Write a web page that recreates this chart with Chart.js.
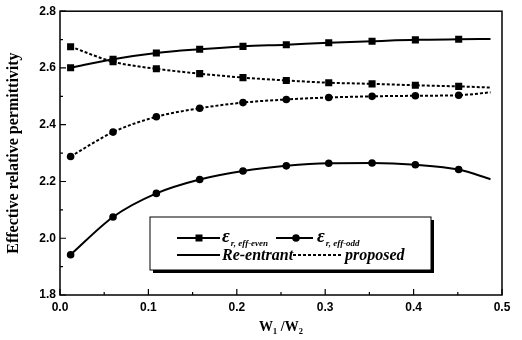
<!DOCTYPE html>
<html>
<head>
<meta charset="utf-8">
<script src="https://cdn.jsdelivr.net/npm/chart.js@4"></script>
<style>
  html, body { margin: 0; padding: 0; background: #fff; }
  #wrap { width: 522px; height: 340px; }
</style>
</head>
<body>
<div id="wrap"><canvas id="chart"></canvas></div>
<script>
// valores
const widthRatio = [0.012, 0.06, 0.109, 0.158, 0.207, 0.256, 0.304, 0.353, 0.402, 0.451, 0.487];
const reEntrantEven = [2.601, 2.631, 2.653, 2.666, 2.676, 2.682, 2.689, 2.694, 2.699, 2.701, 2.702];
const proposedEven = [2.675, 2.622, 2.597, 2.580, 2.566, 2.556, 2.548, 2.544, 2.539, 2.535, 2.531];
const proposedOdd = [2.288, 2.374, 2.428, 2.458, 2.478, 2.489, 2.496, 2.500, 2.502, 2.504, 2.514];
const reEntrantOdd = [1.942, 2.075, 2.158, 2.207, 2.237, 2.255, 2.264, 2.265, 2.259, 2.242, 2.208];

const xMajor = [0, 0.1, 0.2, 0.3, 0.4, 0.5];
const xMinor = [0.05, 0.15, 0.25, 0.35, 0.45];
const yMajor = [1.8, 2.0, 2.2, 2.4, 2.6, 2.8];
const yMinor = [1.9, 2.1, 2.3, 2.5, 2.7];

const toPoints = ys => ys.map((y, i) => ({ x: widthRatio[i], y: y }));
// la última muestra es solo el final de la curva, sin marcador
const markerSize = r => ctx => ctx.dataIndex === widthRatio.length - 1 ? 0 : r;

function serie(values, dashed, shape) {
    return {
        data: toPoints(values),
        borderColor: '#000',
        backgroundColor: '#000',
        borderWidth: 2,
        borderDash: dashed ? [3, 2] : [],
        pointStyle: shape,
        pointRadius: markerSize(shape === 'rect' ? 5 : 3.8),
        pointBorderWidth: 0,
        cubicInterpolationMode: 'monotone',
        fill: false
    };
}

// marco, ticks interiores y leyenda
const decoraciones = {
    id: 'decoraciones',
    afterDraw(chart) {
        const ctx = chart.ctx;
        const a = chart.chartArea;
        const sx = chart.scales.x, sy = chart.scales.y;
        ctx.save();
        ctx.strokeStyle = '#000';
        ctx.lineWidth = 1.5;
        ctx.strokeRect(a.left, a.top, a.right - a.left, a.bottom - a.top);

        ctx.lineWidth = 1.2;
        ctx.beginPath();
        xMajor.forEach(v => { const p = sx.getPixelForValue(v); ctx.moveTo(p, a.bottom); ctx.lineTo(p, a.bottom - 6); });
        xMinor.forEach(v => { const p = sx.getPixelForValue(v); ctx.moveTo(p, a.bottom); ctx.lineTo(p, a.bottom - 3); });
        yMajor.forEach(v => { const p = sy.getPixelForValue(v); ctx.moveTo(a.left, p); ctx.lineTo(a.left + 6, p); });
        yMinor.forEach(v => { const p = sy.getPixelForValue(v); ctx.moveTo(a.left, p); ctx.lineTo(a.left + 3, p); });
        ctx.stroke();

        // leyenda con sombra
        const bx = 150, by = 217, bw = 281, bh = 53;
        ctx.fillStyle = '#000';
        ctx.fillRect(bx + 3, by + 3, bw, bh);
        ctx.fillStyle = '#fff';
        ctx.fillRect(bx, by, bw, bh);
        ctx.lineWidth = 1;
        ctx.strokeRect(bx, by, bw, bh);

        ctx.fillStyle = '#000';
        ctx.lineWidth = 2;
        const r1 = 238, r2 = 255;
        const linea = (x1, x2, y, dash) => {
            ctx.setLineDash(dash);
            ctx.beginPath(); ctx.moveTo(x1, y); ctx.lineTo(x2, y); ctx.stroke();
            ctx.setLineDash([]);
        };
        linea(177, 220, r1, []);
        ctx.fillRect(199 - 3.5, r1 - 3.5, 7, 7);
        linea(276, 313, r1, []);
        ctx.beginPath(); ctx.arc(296, r1, 3.8, 0, Math.PI * 2); ctx.fill();

        ctx.textBaseline = 'alphabetic';
        ctx.textAlign = 'left';
        const epsilon = (x, sub) => {
            ctx.font = 'italic bold 19px "Liberation Serif"';
            ctx.fillText('\u03b5', x, r1 + 4);
            const w = ctx.measureText('\u03b5').width;
            ctx.font = 'italic bold 9px "Liberation Serif"';
            ctx.fillText(sub, x + w + 1, r1 + 8);
        };
        epsilon(222, 'r, eff-even');
        epsilon(317, 'r, eff-odd');

        linea(177, 220, r2, []);
        ctx.font = 'italic bold 16px "Liberation Serif"';
        ctx.fillText('Re-entrant', 222, r2 + 5);
        linea(293, 342, r2, [3, 2]);
        ctx.fillText('proposed', 345, r2 + 5);
        ctx.restore();
    }
};

new Chart(document.getElementById('chart').getContext('2d'), {
    type: 'line',
    data: {
        datasets: [
            serie(reEntrantEven, false, 'rect'),
            serie(proposedEven, true, 'rect'),
            serie(proposedOdd, true, 'circle'),
            serie(reEntrantOdd, false, 'circle')
        ]
    },
    options: {
        responsive: true,
        maintainAspectRatio: false,
        animation: false,
        layout: { padding: { left: 0, right: 20, top: 9, bottom: 0 } },
        plugins: {
            legend: { display: false },
            tooltip: { enabled: false }
        },
        scales: {
            x: {
                type: 'linear',
                min: 0, max: 0.5,
                afterFit: s => { s.height = 45; },
                grid: { display: false, drawTicks: false },
                border: { display: false },
                ticks: {
                    stepSize: 0.1,
                    padding: 5,
                    color: '#000',
                    font: { family: '"Liberation Sans"', size: 12, weight: 'bold' },
                    callback: v => v.toFixed(1)
                },
                title: {
                    display: true,
                    text: 'W\u2081 /W\u2082',
                    color: '#000',
                    padding: { top: 4 },
                    font: { family: '"Liberation Serif"', size: 14, weight: 'bold' }
                }
            },
            y: {
                min: 1.8, max: 2.8,
                afterFit: s => { s.width = 60; },
                grid: { display: false, drawTicks: false },
                border: { display: false },
                ticks: {
                    stepSize: 0.2,
                    padding: 4,
                    color: '#000',
                    font: { family: '"Liberation Sans"', size: 12, weight: 'bold' },
                    callback: v => v.toFixed(1)
                },
                title: {
                    display: true,
                    text: 'Effective relative permittivity',
                    color: '#000',
                    padding: { bottom: 2 },
                    font: { family: '"Liberation Serif"', size: 16, weight: 'bold' }
                }
            }
        }
    },
    plugins: [decoraciones]
});
</script>
</body>
</html>
